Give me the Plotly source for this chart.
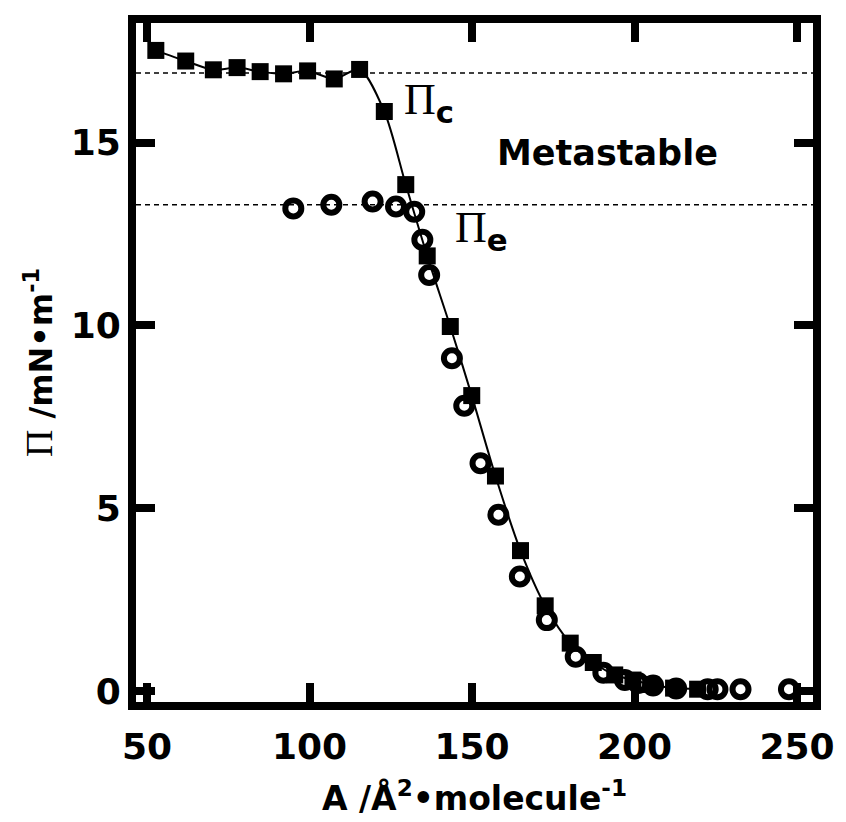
import plotly.graph_objects as go

# Πc series (filled squares) : area (Å^2/molecule), surface pressure (mN/m)
sq_area = [52.7, 61.9, 70.4, 77.7, 84.8, 92.0, 99.4, 107.6, 115.4, 123.0, 129.6,
           136.2, 143.3, 149.9, 157.2, 164.9, 172.5, 180.2, 187.3, 193.9, 199.5,
           205.0, 212.0, 219.4]
sq_pi = [17.52, 17.23, 16.99, 17.05, 16.94, 16.88, 16.96, 16.74, 17.00, 15.85, 13.85,
         11.90, 9.97, 8.08, 5.88, 3.84, 2.33, 1.31, 0.78, 0.44, 0.30,
         0.18, 0.08, 0.05]

# Πe series (open circles)
ci_area = [95.0, 106.7, 119.4, 126.6, 132.2, 134.7, 136.8, 143.8, 147.6, 152.6, 158.1,
           164.7, 173.0, 181.9, 190.4, 197.0, 201.1, 205.7, 212.8, 222.5, 225.5,
           232.6, 247.5]
ci_pi = [13.20, 13.30, 13.39, 13.25, 13.11, 12.34, 11.38, 9.10, 7.80, 6.23, 4.82,
         3.13, 1.94, 0.94, 0.50, 0.30, 0.22, 0.15, 0.07, 0.05, 0.05,
         0.05, 0.05]

# reference pressures (dashed lines)
pi_c = 16.9
pi_e = 13.3

x_ticks = [50, 100, 150, 200, 250]
y_ticks = [0, 5, 10, 15]

SANS = "DejaVu Sans"
SERIF = "Liberation Serif"

fig = go.Figure()

fig.add_trace(go.Scatter(
    x=sq_area, y=sq_pi, mode="lines+markers",
    line=dict(color="black", width=2, shape="spline", smoothing=0.8),
    marker=dict(symbol="square", size=17, color="black", line=dict(width=0)),
    showlegend=False, cliponaxis=False,
))
fig.add_trace(go.Scatter(
    x=ci_area, y=ci_pi, mode="markers",
    marker=dict(symbol="circle-open", size=16, color="black", line=dict(width=6, color="black")),
    showlegend=False, cliponaxis=False,
))

for yv in (pi_c, pi_e):
    fig.add_shape(type="line", xref="paper", x0=0, x1=1, yref="y", y0=yv, y1=yv,
                  line=dict(color="black", width=1.5, dash="5px,4px"), layer="below")

ann_font = dict(family=SANS, size=44, color="black", weight="bold")
fig.add_annotation(x=128.5, y=16.1, xref="x", yref="y", xanchor="left", yanchor="middle",
                   showarrow=False, font=ann_font,
                   text=f"<span style='font-family:{SERIF};font-weight:normal'>Π</span><sub>c</sub>")
fig.add_annotation(x=144.2, y=12.6, xref="x", yref="y", xanchor="left", yanchor="middle",
                   showarrow=False, font=ann_font,
                   text=f"<span style='font-family:{SERIF};font-weight:normal'>Π</span><sub>e</sub>")
fig.add_annotation(x=191.7, y=14.72, xref="x", yref="y", xanchor="center", yanchor="middle",
                   showarrow=False, font=dict(family=SANS, size=35, color="black", weight="bold"),
                   text="Metastable")

axis_common = dict(
    showline=True, linewidth=8, linecolor="black", mirror="ticks",
    ticks="inside", ticklen=19, tickwidth=8, tickcolor="black",
    showgrid=False, zeroline=False,
    tickfont=dict(family=SANS, size=36, color="black", weight="bold"),
)

fig.update_xaxes(
    range=[46.6, 254.9], tickvals=x_ticks, ticktext=[str(v) for v in x_ticks],
    ticklabelstandoff=6,
    title=dict(text="A /Å<sup>2</sup>•molecule<sup>-1</sup>",
               font=dict(family=SANS, size=33, color="black", weight="bold"), standoff=24),
    **axis_common,
)
fig.update_yaxes(
    range=[-0.30, 18.27], tickvals=y_ticks, ticktext=[str(v) for v in y_ticks],
    ticklabelstandoff=0,
    title=dict(text=f"<span style='font-family:{SERIF};font-weight:normal;font-size:38px'>Π</span> /mN•m<sup>-1</sup>",
               font=dict(family=SANS, size=32, color="black", weight="bold"), standoff=11),
    **axis_common,
)

fig.update_layout(
    width=846, height=822,
    margin=dict(l=128, r=41, t=15, b=128, autoexpand=False),
    paper_bgcolor="white", plot_bgcolor="white",
)

fig.write_html("out.html")
